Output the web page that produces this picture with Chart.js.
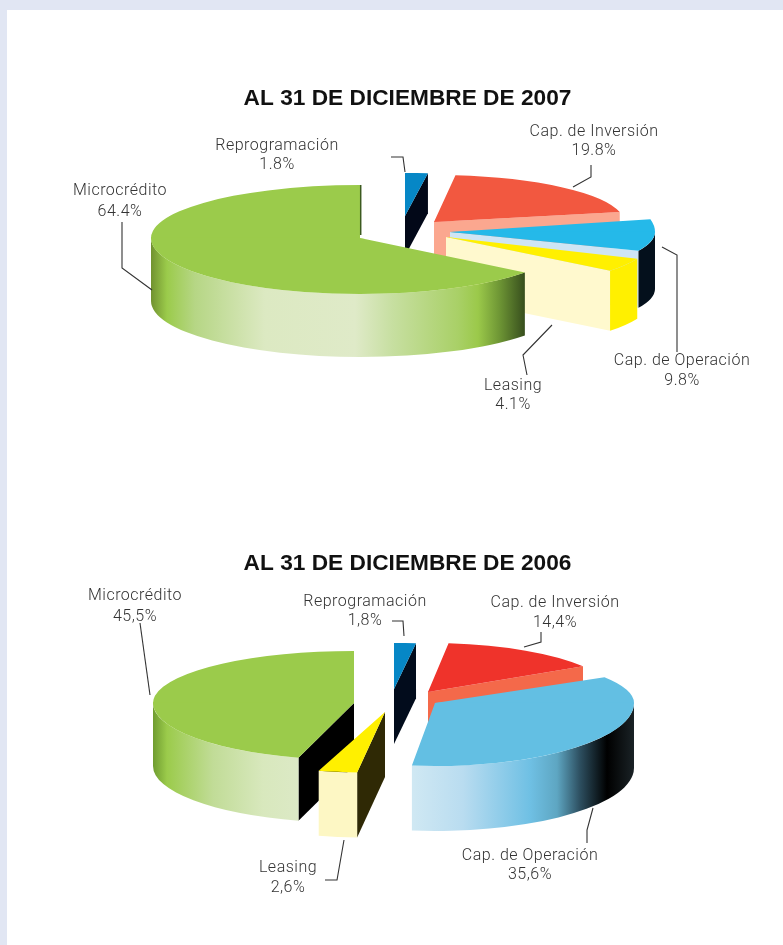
<!DOCTYPE html>
<html>
<head>
<meta charset="utf-8">
<script src="https://cdn.jsdelivr.net/npm/chart.js@4"></script>
<style>
html, body { margin: 0; padding: 0; width: 783px; height: 945px; overflow: hidden; background: #e1e6f3; }
#paper { position: absolute; left: 7px; top: 10px; right: 0; bottom: 0; background: #fff; }
canvas { position: absolute; left: 0; filter: blur(0.35px); }
#c2007 { top: 0; }
#c2006 { top: 472px; }
</style>
</head>
<body>
<div id="paper"></div>
<canvas id="c2007" width="783" height="472"></canvas>
<canvas id="c2006" width="783" height="473"></canvas>
<script>
// order is clockwise from 12 o'clock, same as in the picture
const categories = ['Reprogramación', 'Cap. de Inversión', 'Cap. de Operación', 'Leasing', 'Microcrédito'];
const values2007 = [1.8, 19.8, 9.8, 4.1, 64.4];
const values2006 = [1.8, 14.4, 35.6, 2.6, 45.5];
const topColors2007 = ['#0687c6', '#f25840', '#25b9e9', '#fff000', '#9bcb4b'];
const topColors2006 = ['#0687c6', '#ef332b', '#63bfe3', '#fff000', '#9bcb4b'];

// 3D look of every slice: where it was pulled out to, ellipse radii, wall colours
const look2007 = [
    { cx: 405, cy: 216, rx: 203, ryBack: 43, ryFront: 43, depth: 40, side: '#020818', wall: '#020818' },
    { cx: 434, cy: 222, rx: 190, ryBack: 47, ryFront: 47, depth: 35, side: '#fba78f', wall: '#fba78f' },
    { cx: 450, cy: 232, rx: 205, ryBack: 60, ryFront: 48, depth: 57, side: '#cfe5f4', wall: '#04101c' },
    { cx: 446, cy: 237, rx: 208, ryBack: 55, ryFront: 55, depth: 60, side: '#fff9ce', wall: '#fff000' },
    { cx: 360, cy: 238, rx: 209, ryBack: 53, ryFront: 56, depth: 63, side: '#3c5a20', edge: '#3c5a20', wall: [
        [150, '#6e8e2e'], [167, '#9bcb4b'], [195, '#b6d685'], [265, '#dce9c2'], [355, '#dfeac8'],
        [392, '#c7dfa1'], [458, '#a9d067'], [478, '#9bc94a'], [499, '#6f9735'], [527, '#32481b']] }
];
const look2006 = [
    { cx: 394, cy: 689, rx: 195, ryBack: 46, ryFront: 46, depth: 55, side: '#020c1c', wall: '#020c1c' },
    { cx: 428, cy: 692, rx: 182, ryBack: 49, ryFront: 49, depth: 40, side: '#f4694a', wall: '#f4694a' },
    { cx: 435, cy: 703, rx: 199, ryBack: 49, ryFront: 63, depth: 65, side: '#63bfe3', wall: [
        [413, '#cfe8f3'], [463, '#b9dcf0'], [530, '#6fc0e4'], [557, '#5ea6c2'], [580, '#2d4f60'],
        [607, '#000000'], [634, '#1a2226']] },
    { cx: 385, cy: 712, rx: 240, ryBack: 61, ryFront: 61, depth: 65, side: '#2f2905', wall: '#fdf7c4' },
    { cx: 354, cy: 703, rx: 201, ryBack: 52, ryFront: 57, depth: 63, side: '#000000', wall: [
        [153, '#6f9c30'], [167, '#9bcb4b'], [213, '#c1dc97'], [263, '#d8e8bd'], [300, '#dce9c6']] }
];
// back to front
const order2007 = [0, 1, 2, 3, 4];
const order2006 = [0, 1, 2, 4, 3];

// label position (centre of the two text lines) and leader line for every slice
const notes2007 = [
    { x: 277, y: 146, gap: 19, line: [[391, 157], [403, 157], [405, 172]] },
    { x: 594, y: 132, gap: 19, line: [[591, 165], [591, 177], [573, 187]] },
    { x: 682, y: 361, gap: 20, line: [[662, 247], [677, 255], [677, 352]] },
    { x: 513, y: 386, gap: 19, line: [[552, 325], [523, 355], [527, 375]] },
    { x: 120, y: 191, gap: 21, line: [[122, 222], [122, 268], [152, 290]] }
];
const notes2006 = [
    { x: 365, y: 602, gap: 19, line: [[392, 621], [403, 621], [404, 636]] },
    { x: 555, y: 603, gap: 20, line: [[541, 632], [541, 642], [524, 647]] },
    { x: 530, y: 856, gap: 19, line: [[593, 808], [587, 830], [587, 843]] },
    { x: 288, y: 868, gap: 20, line: [[344, 840], [337, 880], [325, 880]] },
    { x: 135, y: 596, gap: 21, line: [[140, 623], [150, 695]] }
];

function wallFill(ctx, wall) {
    if (typeof wall === 'string') return wall;
    var x0 = wall[0][0], x1 = wall[wall.length - 1][0];
    var g = ctx.createLinearGradient(x0, 0, x1, 0);
    wall.forEach(function (stop) { g.addColorStop((stop[0] - x0) / (x1 - x0), stop[1]); });
    return g;
}

function rimPoint(s, a) {
    var ry = Math.sin(a) > 0 ? s.ryFront : s.ryBack;
    return [s.cx + s.rx * Math.cos(a), s.cy + ry * Math.sin(a)];
}

function drawRadialWall(ctx, s, a) {
    var p = rimPoint(s, a);
    ctx.fillStyle = s.side;
    ctx.beginPath();
    ctx.moveTo(s.cx, s.cy);
    ctx.lineTo(p[0], p[1]);
    ctx.lineTo(p[0], p[1] + s.depth);
    ctx.lineTo(s.cx, s.cy + s.depth);
    ctx.closePath();
    ctx.fill();
}

function drawSlice(ctx, el, s) {
    var a0 = el.startAngle, a1 = el.endAngle;
    // radial faces that look at the viewer
    if (a0 > Math.PI / 2) drawRadialWall(ctx, s, a0);
    if (a1 < Math.PI / 2) drawRadialWall(ctx, s, a1);
    // curved front wall
    var lo = Math.max(a0, 0), hi = Math.min(a1, Math.PI);
    if (hi > lo) {
        ctx.fillStyle = wallFill(ctx, s.wall);
        ctx.beginPath();
        ctx.ellipse(s.cx, s.cy, s.rx, s.ryFront, 0, lo, hi);
        ctx.ellipse(s.cx, s.cy + s.depth, s.rx, s.ryFront, 0, hi, lo, true);
        ctx.closePath();
        ctx.fill();
    }
    // top face, the library's own arc squashed, back half flatter than front half
    var R = el.outerRadius;
    [[s.ryBack, -2000, s.cy + 0.5], [s.ryFront, s.cy - 0.5, 2000]].forEach(function (part) {
        ctx.save();
        ctx.beginPath();
        ctx.rect(0, part[1], 783, part[2] - part[1]);
        ctx.clip();
        ctx.translate(s.cx, s.cy);
        ctx.scale(s.rx / R, part[0] / R);
        ctx.translate(-el.x, -el.y);
        el.draw(ctx);
        ctx.restore();
    });
    // thin dark sliver where the big slice closes at 12 o'clock
    if (s.edge) {
        var p = rimPoint(s, a1);
        ctx.strokeStyle = s.edge;
        ctx.lineWidth = 1.5;
        ctx.beginPath();
        ctx.moveTo(p[0] + 0.7, p[1]);
        ctx.lineTo(s.cx + 0.7, s.cy - 3);
        ctx.stroke();
    }
}

function drawPie(canvasId, year, values, colors, look, order, notes, originY, decimal, titleTop) {
    var pie3d = {
        id: 'pie3d',
        beforeDatasetDraw: function (chart) {
            var ctx = chart.ctx;
            var arcs = chart.getDatasetMeta(0).data;
            ctx.save();
            ctx.translate(0, -originY);
            order.forEach(function (i) { drawSlice(ctx, arcs[i], look[i]); });
            ctx.restore();
            return false;
        },
        afterDatasetsDraw: function (chart) {
            var ctx = chart.ctx;
            ctx.save();
            ctx.translate(0, -originY);
            ctx.strokeStyle = '#333';
            ctx.lineWidth = 1.1;
            notes.forEach(function (n, i) {
                ctx.beginPath();
                n.line.forEach(function (p, k) {
                    if (k === 0) ctx.moveTo(p[0], p[1]); else ctx.lineTo(p[0], p[1]);
                });
                ctx.stroke();
                ctx.font = '300 16px Roboto';
                ctx.letterSpacing = '0.5px';
                ctx.fillStyle = '#333';
                ctx.textAlign = 'center';
                ctx.textBaseline = 'middle';
                ctx.fillText(categories[i], n.x, n.y);
                ctx.fillText(values[i].toFixed(1).replace('.', decimal) + '%', n.x, n.y + n.gap);
            });
            ctx.restore();
        }
    };
    new Chart(canvasId, {
        type: 'pie',
        data: {
            labels: categories,
            datasets: [{ data: values, backgroundColor: colors, borderWidth: 0 }]
        },
        options: {
            responsive: false,
            animation: false,
            layout: { padding: { left: 32 } },
            plugins: {
                legend: { display: false },
                tooltip: { enabled: false },
                title: {
                    display: true,
                    text: 'AL 31 DE DICIEMBRE DE ' + year,
                    color: '#111',
                    font: { family: '"Liberation Sans"', size: 22.7, weight: 'bold' },
                    padding: { top: titleTop, bottom: 10 }
                }
            }
        },
        plugins: [pie3d]
    });
}

drawPie('c2007', '2007', values2007, topColors2007, look2007, order2007, notes2007, 0, '.', 85);
drawPie('c2006', '2006', values2006, topColors2006, look2006, order2006, notes2006, 472, ',', 78);
</script>
</body>
</html>
